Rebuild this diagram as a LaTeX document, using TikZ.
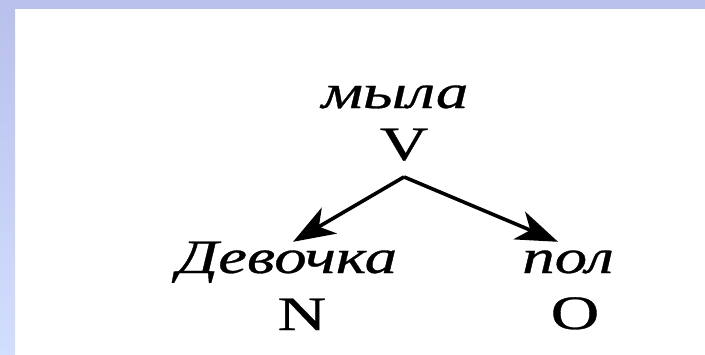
\documentclass[tikz,border=0pt]{standalone}
\usepackage{fontspec}
\setmainfont{Liberation Serif}[FakeBold=0.6]
\usetikzlibrary{arrows.meta, positioning}
\definecolor{BandBlue}{RGB}{184,192,236}
\definecolor{BandLight}{RGB}{210,222,255}

\begin{document}
\begin{tikzpicture}[x=1pt,y=-1pt,
	word/.style={font=\fontsize{48}{48}\selectfont\itshape,inner sep=0pt,
		anchor=base,xscale=1.35,text height=31pt},
	tag/.style={font=\fontsize{48}{48}\selectfont,inner sep=0pt,anchor=base,xscale=1.4},
	link/.style={-{Stealth[length=42pt,width=30pt,inset=12pt]},line width=3.6pt}]
\useasboundingbox (0,0) rectangle (705,354);
\fill[white] (0,0) rectangle (705,354);
\fill[BandBlue] (0,0) rectangle (705,9);
\shade[top color=BandBlue,bottom color=BandLight] (0,0) rectangle (15,354);
% tree
\node[word] (myla) at (395,108) {мыла};
\node[tag] (verb) at (404,160) {V};
\node[word] (girl) at (287,273) {Девочка};
\node[word] (floor) at (568,273) {пол};
\node[tag] (subj) at (302,330) {N};
\node[tag] (obj) at (575,329) {O};
\coordinate[below=16pt of verb] (fork);
\draw[link] (fork)--([xshift=6pt]girl.north);
\draw[link] (fork)--([xshift=-10pt]floor.north);
\end{tikzpicture}
\end{document}
